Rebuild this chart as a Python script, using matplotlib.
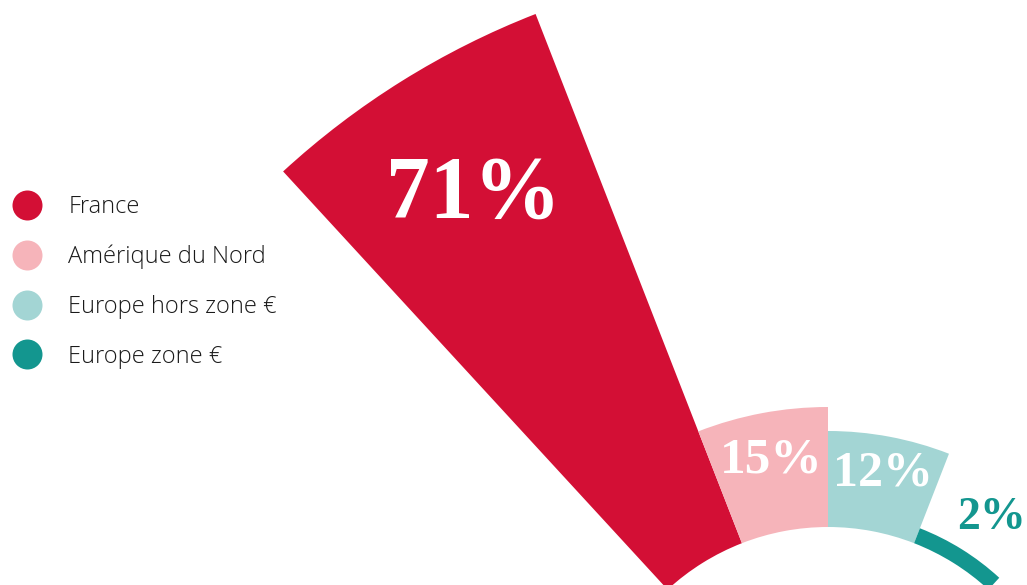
import numpy as np
import matplotlib
matplotlib.use('Agg')
import matplotlib.pyplot as plt
from matplotlib.lines import Line2D

# data
regions = ['France', 'Amérique du Nord', 'Europe hors zone €', 'Europe zone €']
shares = [71, 15, 12, 2]
labels = ['71%', '15%', '12%', '2%']

colors = ['#D30F35', '#F6B4BA', '#A3D5D4', '#13968F']
txt_colors = ['white', 'white', 'white', '#13968F']
label_r = [83.8, 38.6, 37.0, 36.9]
label_dt = [0, 0, 0, -1.6]          # degrees, fine nudge of the label angle
label_size = [63, 37, 36, 33]

W, H = 1027, 585
fig = plt.figure(figsize=(W / 100, H / 100), dpi=100)

# polar axes whose centre sits below the figure, r in "percent" units (8 px per %)
cx, cy = 828, 764           # centre in px from top-left
px_per = 8.0
rmax = 106.25
R = rmax * px_per
ax = fig.add_axes([(cx - R) / W, (H - cy - R) / H, 2 * R / W, 2 * R / H],
                  projection='polar')
ax.set_ylim(0, rmax)
ax.set_axis_off()

start = np.deg2rad(132.6)
width = np.deg2rad(21.3)
theta = start - width * (np.arange(len(shares)) + 0.5)
inner = 237 / px_per

ax.bar(theta, shares, width=width, bottom=inner, color=colors,
       edgecolor='none', linewidth=0)

for t, dt, r, lab, c, s in zip(theta, label_dt, label_r, labels, txt_colors, label_size):
    ax.text(t + np.deg2rad(dt), r, lab, color=c, fontsize=s, fontweight='bold',
            family='Liberation Serif', ha='center', va='center')

handles = [Line2D([], [], ls='none', marker='o', ms=21.6, mfc=c, mec='none')
           for c in colors]
fig.legend(handles, regions, loc='upper left',
           bbox_to_anchor=(11 / W, (H - 195) / H),
           frameon=False, borderpad=0, borderaxespad=0,
           handlelength=1.35, handletextpad=1.07, labelspacing=1.09,
           prop={'family': 'Open Sans', 'weight': 300, 'size': 17},
           labelcolor='#1a1a1a')

fig.savefig('out.png', dpi=100, facecolor='white')
